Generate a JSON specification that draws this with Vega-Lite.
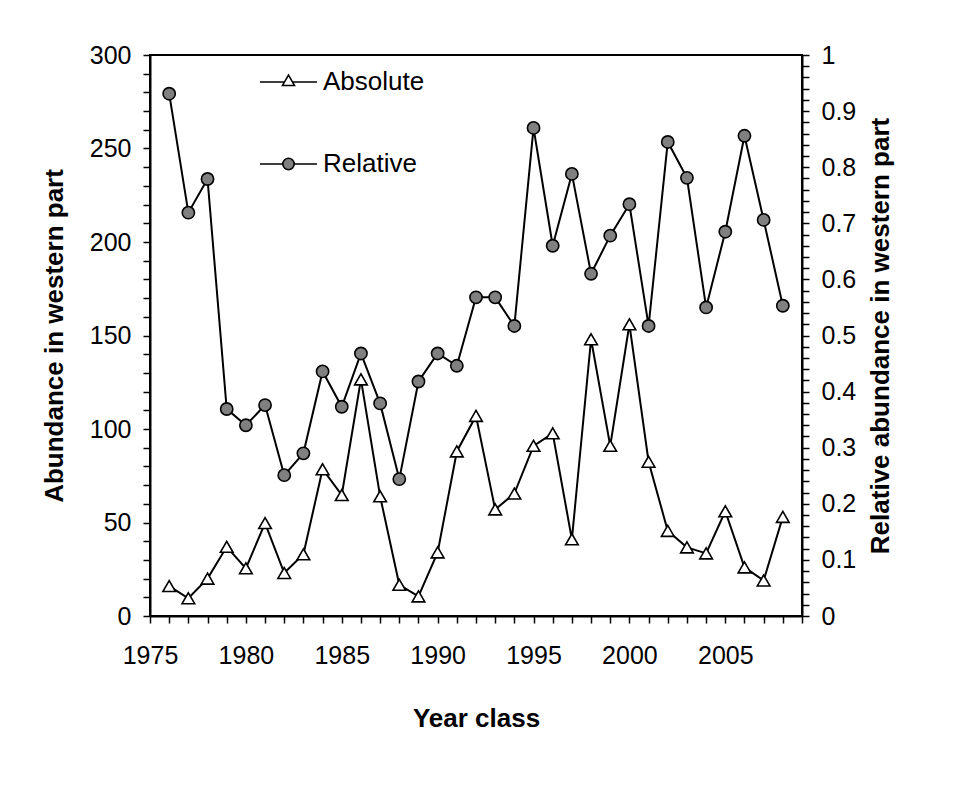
{
  "$schema": "https://vega.github.io/schema/vega-lite/v6.json",
  "width": 652,
  "height": 561,
  "autosize": {"type": "none"},
  "padding": {"left": 150, "top": 55, "right": 156, "bottom": 196},
  "background": "white",
  "config": {
    "view": {"stroke": "black", "strokeWidth": 2},
    "font": "Liberation Sans",
    "axis": {
      "domainColor": "black", "domainWidth": 2,
      "tickColor": "black", "tickWidth": 1.5, "tickSize": 7,
      "labelFont": "Liberation Sans", "labelFontSize": 25, "labelColor": "black",
      "titleFont": "Liberation Sans", "titleFontSize": 26, "titleFontWeight": "bold", "titleColor": "black",
      "grid": false, "labelOverlap": false, "labelFlush": false, "labelBound": false
    },
    "legend": {
      "labelFont": "Liberation Sans", "labelFontSize": 26, "labelColor": "black"
    }
  },
  "data": {
    "values": [
      {"year": 1976, "absolute": 16, "relative": 0.931},
      {"year": 1977, "absolute": 9.5, "relative": 0.719},
      {"year": 1978, "absolute": 20, "relative": 0.779},
      {"year": 1979, "absolute": 37, "relative": 0.369},
      {"year": 1980, "absolute": 25.5, "relative": 0.34},
      {"year": 1981, "absolute": 49.7, "relative": 0.376},
      {"year": 1982, "absolute": 23, "relative": 0.251},
      {"year": 1983, "absolute": 33, "relative": 0.29},
      {"year": 1984, "absolute": 78.5, "relative": 0.436},
      {"year": 1985, "absolute": 64.7, "relative": 0.373},
      {"year": 1986, "absolute": 126.5, "relative": 0.468},
      {"year": 1987, "absolute": 64, "relative": 0.379},
      {"year": 1988, "absolute": 16.7, "relative": 0.244},
      {"year": 1989, "absolute": 10.5, "relative": 0.418},
      {"year": 1990, "absolute": 34, "relative": 0.468},
      {"year": 1991, "absolute": 88, "relative": 0.446},
      {"year": 1992, "absolute": 107, "relative": 0.568},
      {"year": 1993, "absolute": 57, "relative": 0.568},
      {"year": 1994, "absolute": 65.5, "relative": 0.517},
      {"year": 1995, "absolute": 91, "relative": 0.87},
      {"year": 1996, "absolute": 97.7, "relative": 0.66},
      {"year": 1997, "absolute": 41, "relative": 0.788},
      {"year": 1998, "absolute": 148, "relative": 0.61},
      {"year": 1999, "absolute": 91, "relative": 0.678},
      {"year": 2000, "absolute": 156, "relative": 0.734},
      {"year": 2001, "absolute": 82.5, "relative": 0.517},
      {"year": 2002, "absolute": 45.5, "relative": 0.845},
      {"year": 2003, "absolute": 36.7, "relative": 0.781},
      {"year": 2004, "absolute": 33.5, "relative": 0.55},
      {"year": 2005, "absolute": 56, "relative": 0.685},
      {"year": 2006, "absolute": 26, "relative": 0.856},
      {"year": 2007, "absolute": 19, "relative": 0.706},
      {"year": 2008, "absolute": 53, "relative": 0.553}
    ]
  },
  "encoding": {
    "x": {
      "field": "year", "type": "quantitative",
      "scale": {"domain": [1975, 2009], "nice": false, "zero": false},
      "axis": {
        "title": "Year class",
        "values": [1975,1976,1977,1978,1979,1980,1981,1982,1983,1984,1985,1986,1987,1988,1989,1990,1991,1992,1993,1994,1995,1996,1997,1998,1999,2000,2001,2002,2003,2004,2005,2006,2007,2008,2009],
        "format": "d",
        "labelExpr": "datum.value % 5 === 0 ? datum.label : ''",
        "labelPadding": 20,
        "titlePadding": 37
      }
    }
  },
  "layer": [
    {
      "encoding": {
        "y": {
          "field": "absolute", "type": "quantitative",
          "scale": {"domain": [0, 300], "nice": false},
          "axis": {
            "orient": "left",
            "title": "Abundance in western part",
            "values": [0,10,20,30,40,50,60,70,80,90,100,110,120,130,140,150,160,170,180,190,200,210,220,230,240,250,260,270,280,290,300],
            "labelExpr": "datum.value % 50 === 0 ? datum.label : ''",
            "labelPadding": 12,
            "titlePadding": 22
          }
        }
      },
      "layer": [
        {"mark": {"type": "line", "color": "black", "strokeWidth": 2}},
        {"mark": {"type": "point", "shape": "triangle-up", "size": 160, "filled": true, "fill": "white", "stroke": "black", "strokeWidth": 1.6, "opacity": 1}},
        {
          "transform": [{"fold": ["absolute", "relative"], "as": ["key", "val"]}, {"filter": "datum.year < 0"}],
          "mark": {"type": "point", "filled": false, "strokeWidth": 1.6, "opacity": 1},
          "encoding": {
            "shape": {
              "field": "key", "type": "nominal",
              "scale": {
                "domain": ["absolute", "relative"],
                "range": [
                  "M-4.75,0H-0.667M0.667,0H4.75M0,-1.155L1,0.577L-1,0.577Z",
                  "M-4.75,0H-0.95M0.95,0H4.75M-0.95,0A0.95,0.95 0 1,0 0.95,0A0.95,0.95 0 1,0 -0.95,0Z"
                ]
              },
              "legend": {
                "title": null, "orient": "none", "legendX": 125.5, "legendY": 14,
                "labelExpr": "datum.value === 'absolute' ? 'Absolute' : 'Relative'",
                "symbolSize": 144, "symbolStrokeWidth": 1.6,
                "labelOffset": 21.5, "rowPadding": 56, "padding": 0, "symbolOpacity": 1
              }
            },
            "fill": {
              "field": "key", "type": "nominal",
              "scale": {"domain": ["absolute", "relative"], "range": ["white", "#808080"]}
            },
            "stroke": {
              "field": "key", "type": "nominal",
              "scale": {"domain": ["absolute", "relative"], "range": ["black", "black"]}
            }
          }
        }
      ]
    },
    {
      "encoding": {
        "y": {
          "field": "relative", "type": "quantitative",
          "scale": {"domain": [0, 1], "nice": false},
          "axis": {
            "orient": "right",
            "title": "Relative abundance in western part",
            "titleAngle": 270,
            "titleBaseline": "top",
            "values": [0,0.02,0.04,0.06,0.08,0.1,0.12,0.14,0.16,0.18,0.2,0.22,0.24,0.26,0.28,0.3,0.32,0.34,0.36,0.38,0.4,0.42,0.44,0.46,0.48,0.5,0.52,0.54,0.56,0.58,0.6,0.62,0.64,0.66,0.68,0.7,0.72,0.74,0.76,0.78,0.8,0.82,0.84,0.86,0.88,0.9,0.92,0.94,0.96,0.98,1],
            "labelExpr": "round(datum.value * 100) % 10 === 0 ? format(datum.value, '~g') : ''",
            "labelPadding": 12,
            "titlePadding": 12
          }
        }
      },
      "layer": [
        {"mark": {"type": "line", "color": "black", "strokeWidth": 2}},
        {"mark": {"type": "point", "shape": "circle", "size": 150, "filled": true, "fill": "#808080", "stroke": "black", "strokeWidth": 1.6, "opacity": 1}}
      ]
    }
  ],
  "resolve": {"scale": {"y": "independent"}}
}
